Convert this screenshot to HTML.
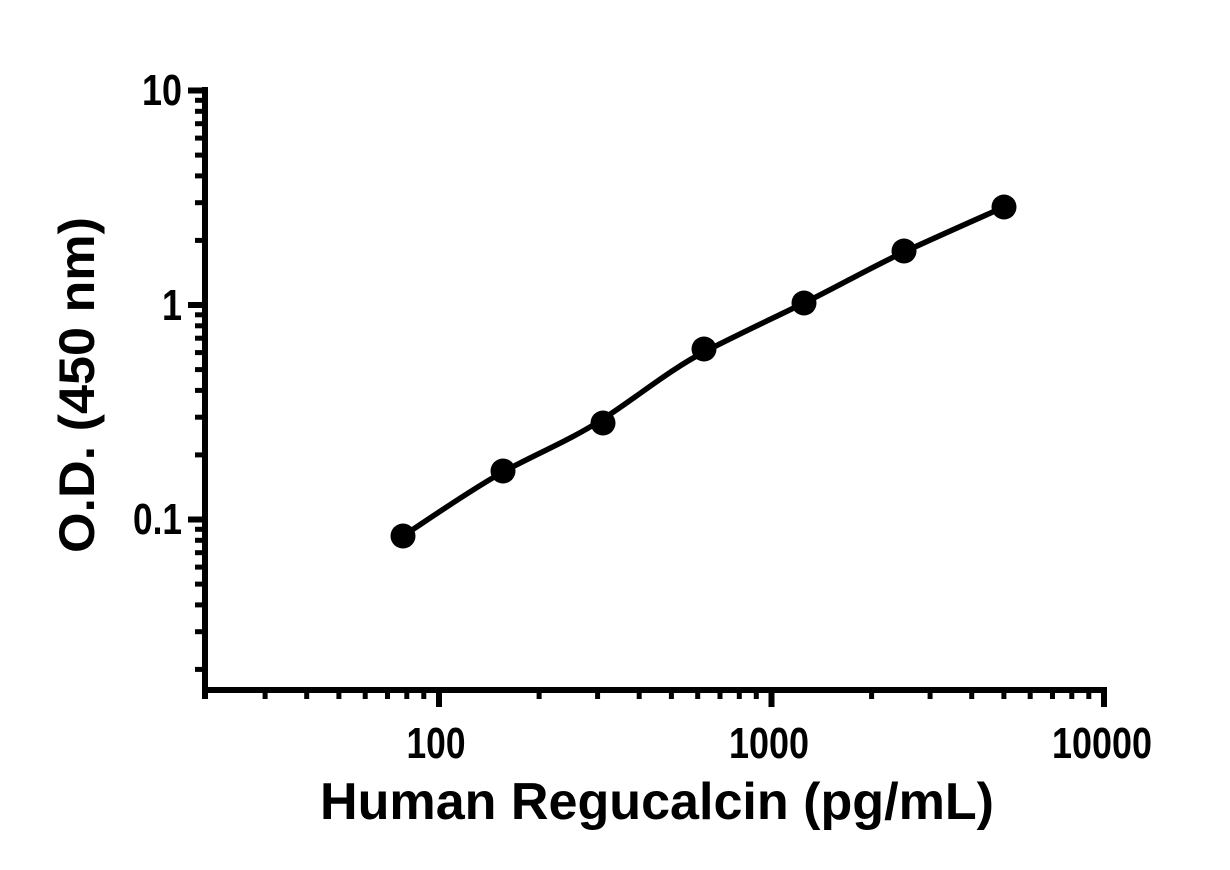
<!DOCTYPE html>
<html>
<head>
<meta charset="utf-8">
<style>
  html, body { margin: 0; padding: 0; background: #ffffff; }
  svg { display: block; }
  text { font-family: "Liberation Sans", Arial, sans-serif; font-weight: bold; fill: #000; }
</style>
</head>
<body>
<svg width="1230" height="870" viewBox="0 0 1230 870" xmlns="http://www.w3.org/2000/svg">
  <rect x="0" y="0" width="1230" height="870" fill="#ffffff"/>

  <!-- Axes -->
  <g stroke="#000" fill="none" stroke-linecap="butt">
    <line x1="205" y1="87" x2="205" y2="699" stroke-width="6"/>
    <line x1="202" y1="690" x2="1107" y2="690" stroke-width="6"/>

    <!-- Y major ticks -->
    <g stroke-width="6">
      <line x1="188" y1="90.5" x2="205" y2="90.5"/>
      <line x1="188" y1="305" x2="205" y2="305"/>
      <line x1="188" y1="519.5" x2="205" y2="519.5"/>
    </g>
    <!-- Y minor ticks -->
    <g stroke-width="5">
      <line x1="195" y1="100.3" x2="205" y2="100.3"/>
      <line x1="195" y1="111.3" x2="205" y2="111.3"/>
      <line x1="195" y1="123.7" x2="205" y2="123.7"/>
      <line x1="195" y1="138.1" x2="205" y2="138.1"/>
      <line x1="195" y1="155.1" x2="205" y2="155.1"/>
      <line x1="195" y1="175.9" x2="205" y2="175.9"/>
      <line x1="195" y1="202.7" x2="205" y2="202.7"/>
      <line x1="195" y1="240.4" x2="205" y2="240.4"/>

      <line x1="195" y1="314.8" x2="205" y2="314.8"/>
      <line x1="195" y1="325.8" x2="205" y2="325.8"/>
      <line x1="195" y1="338.2" x2="205" y2="338.2"/>
      <line x1="195" y1="352.6" x2="205" y2="352.6"/>
      <line x1="195" y1="369.6" x2="205" y2="369.6"/>
      <line x1="195" y1="390.4" x2="205" y2="390.4"/>
      <line x1="195" y1="417.2" x2="205" y2="417.2"/>
      <line x1="195" y1="454.9" x2="205" y2="454.9"/>

      <line x1="195" y1="529.3" x2="205" y2="529.3"/>
      <line x1="195" y1="540.3" x2="205" y2="540.3"/>
      <line x1="195" y1="552.7" x2="205" y2="552.7"/>
      <line x1="195" y1="567.1" x2="205" y2="567.1"/>
      <line x1="195" y1="584.1" x2="205" y2="584.1"/>
      <line x1="195" y1="604.9" x2="205" y2="604.9"/>
      <line x1="195" y1="631.7" x2="205" y2="631.7"/>
      <line x1="195" y1="669.4" x2="205" y2="669.4"/>
    </g>

    <!-- X major ticks -->
    <g stroke-width="6">
      <line x1="439" y1="690" x2="439" y2="707"/>
      <line x1="771.5" y1="690" x2="771.5" y2="707"/>
      <line x1="1104" y1="690" x2="1104" y2="707"/>
    </g>
    <!-- X minor ticks -->
    <g stroke-width="5">
      <line x1="265.1" y1="690" x2="265.1" y2="699"/>
      <line x1="306.7" y1="690" x2="306.7" y2="699"/>
      <line x1="338.9" y1="690" x2="338.9" y2="699"/>
      <line x1="365.2" y1="690" x2="365.2" y2="699"/>
      <line x1="387.5" y1="690" x2="387.5" y2="699"/>
      <line x1="406.8" y1="690" x2="406.8" y2="699"/>
      <line x1="423.8" y1="690" x2="423.8" y2="699"/>

      <line x1="539.1" y1="690" x2="539.1" y2="699"/>
      <line x1="597.6" y1="690" x2="597.6" y2="699"/>
      <line x1="639.2" y1="690" x2="639.2" y2="699"/>
      <line x1="671.4" y1="690" x2="671.4" y2="699"/>
      <line x1="697.7" y1="690" x2="697.7" y2="699"/>
      <line x1="720.0" y1="690" x2="720.0" y2="699"/>
      <line x1="739.3" y1="690" x2="739.3" y2="699"/>
      <line x1="756.3" y1="690" x2="756.3" y2="699"/>

      <line x1="871.6" y1="690" x2="871.6" y2="699"/>
      <line x1="930.1" y1="690" x2="930.1" y2="699"/>
      <line x1="971.7" y1="690" x2="971.7" y2="699"/>
      <line x1="1003.9" y1="690" x2="1003.9" y2="699"/>
      <line x1="1030.2" y1="690" x2="1030.2" y2="699"/>
      <line x1="1052.5" y1="690" x2="1052.5" y2="699"/>
      <line x1="1071.8" y1="690" x2="1071.8" y2="699"/>
      <line x1="1088.8" y1="690" x2="1088.8" y2="699"/>
    </g>
  </g>

  <!-- Y tick labels -->
  <text x="182" y="105" font-size="44" text-anchor="end" textLength="40" lengthAdjust="spacingAndGlyphs">10</text>
  <text x="182" y="320" font-size="44" text-anchor="end" textLength="20" lengthAdjust="spacingAndGlyphs">1</text>
  <text x="182" y="534" font-size="44" text-anchor="end" textLength="49" lengthAdjust="spacingAndGlyphs">0.1</text>

  <!-- X tick labels -->
  <text x="436" y="758" font-size="44" text-anchor="middle" textLength="59" lengthAdjust="spacingAndGlyphs">100</text>
  <text x="769" y="758" font-size="44" text-anchor="middle" textLength="80" lengthAdjust="spacingAndGlyphs">1000</text>
  <text x="1102" y="758" font-size="44" text-anchor="middle" textLength="100" lengthAdjust="spacingAndGlyphs">10000</text>

  <!-- Axis titles -->
  <text x="657" y="819" font-size="52" text-anchor="middle" textLength="674" lengthAdjust="spacingAndGlyphs">Human Regucalcin (pg/mL)</text>
  <text transform="translate(94,385) rotate(-90)" x="0" y="0" font-size="50" text-anchor="middle" textLength="336" lengthAdjust="spacingAndGlyphs">O.D. (450 nm)</text>

  <!-- Fitted curve -->
  <path d="M403,536 C419.7,525.3 469.7,490.3 503,472 C536.3,453.7 569.5,440.7 603,419 C636.5,397.3 670.5,369.3 704,352 C737.5,334.7 770.7,319.3 804,303 C837.3,286.7 870.7,267.5 904,252 C937.3,236.5 987.3,214.5 1004,207"
        fill="none" stroke="#000" stroke-width="5.5" stroke-linecap="round" stroke-linejoin="round"/>

  <!-- Data points -->
  <g fill="#000">
    <circle cx="403" cy="536" r="12.5"/>
    <circle cx="503" cy="471" r="12.5"/>
    <circle cx="603" cy="423" r="12.5"/>
    <circle cx="704" cy="349" r="12.5"/>
    <circle cx="804" cy="303" r="12.5"/>
    <circle cx="904" cy="251" r="12.5"/>
    <circle cx="1004" cy="207" r="12.5"/>
  </g>
</svg>
</body>
</html>
